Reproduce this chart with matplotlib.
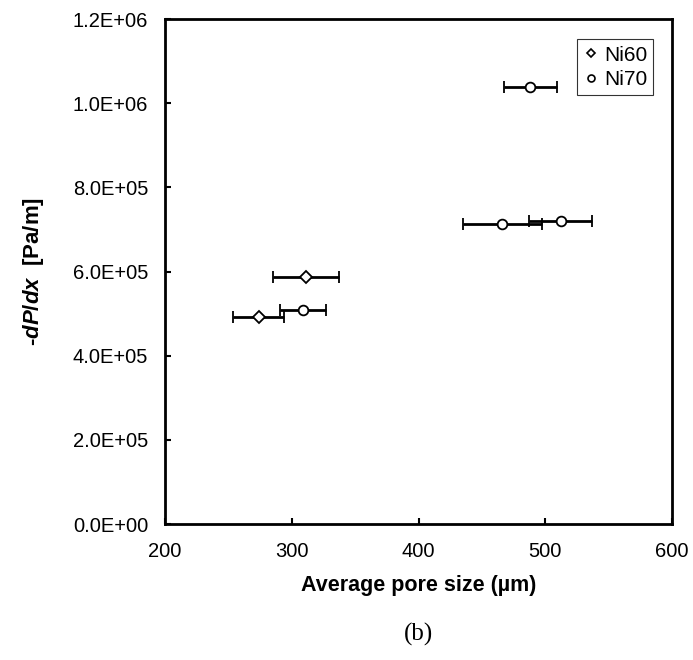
import matplotlib
matplotlib.use("Agg")
import matplotlib.pyplot as plt
from matplotlib.lines import Line2D

plt.rcParams['font.family'] = ['Liberation Sans', 'DejaVu Sans']
plt.rcParams['mathtext.fontset'] = 'custom'
plt.rcParams['mathtext.it'] = 'Liberation Sans:italic:bold'
plt.rcParams['mathtext.rm'] = 'Liberation Sans:bold'

# data
ni60_size = [274, 311]
ni60_dp = [4.93e5, 5.87e5]
ni60_err = [20, 26]

ni70_size = [309, 488, 466, 512]
ni70_dp = [5.08e5, 1.038e6, 7.14e5, 7.20e5]
ni70_err = [18, 21, 31, 25]

x_ticks = [200, 300, 400, 500, 600]
y_ticks = [0, 2e5, 4e5, 6e5, 8e5, 1.0e6, 1.2e6]
y_labels = ['0.0E+00', '2.0E+05', '4.0E+05', '6.0E+05', '8.0E+05', '1.0E+06', '1.2E+06']

fig = plt.figure(figsize=(6.93, 6.6), dpi=100)
ax = fig.add_axes([0.238, 0.206, 0.732, 0.765])

ax.errorbar(ni60_size, ni60_dp, xerr=ni60_err, fmt='D', ms=6, mfc='white', mec='black',
            mew=1.3, ecolor='black', elinewidth=2, capsize=4, capthick=2)
ax.errorbar(ni70_size, ni70_dp, xerr=ni70_err, fmt='o', ms=7, mfc='white', mec='black',
            mew=1.3, ecolor='black', elinewidth=2, capsize=4, capthick=2)

ax.set_xlim(200, 600)
ax.set_ylim(0, 1.2e6)
ax.set_xticks(x_ticks)
ax.set_yticks(y_ticks)
ax.set_yticklabels(y_labels)
ax.tick_params(direction='in', length=4, width=1.5, labelsize=14.5)
ax.tick_params(axis='x', pad=13)
ax.tick_params(axis='y', pad=12)
for s in ax.spines.values():
    s.set_linewidth(2)

ax.set_xlabel('Average pore size (µm)', fontsize=15.5, fontweight='bold', labelpad=10)
ax.set_ylabel(r'-$\mathit{dP/dx}$  [Pa/m]', fontsize=16, fontweight='bold')
ax.yaxis.set_label_coords(-0.235, 0.5)

handles = [
    Line2D([], [], ls='none', marker='D', ms=4.5, mfc='white', mec='black', mew=1.2),
    Line2D([], [], ls='none', marker='o', ms=5, mfc='white', mec='black', mew=1.2),
]
leg = ax.legend(handles, ['Ni60', 'Ni70'], loc='upper right', bbox_to_anchor=(0.963, 0.96),
                fontsize=15, handletextpad=0.2, handlelength=0.8, borderpad=0.3,
                labelspacing=0.25, fancybox=False, edgecolor='black', borderaxespad=0)
leg.get_frame().set_linewidth(0.8)

fig.text(0.5 * (0.238 + 0.97), 0.038, '(b)', ha='center', va='center', fontsize=18,
         family='Liberation Serif')

fig.savefig('out.png', dpi=100)
